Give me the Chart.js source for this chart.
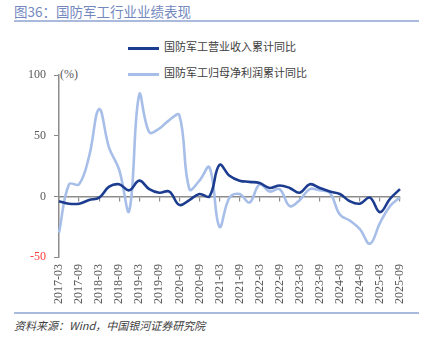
<!DOCTYPE html>
<html>
<head>
<meta charset="utf-8">
<script src="https://cdn.jsdelivr.net/npm/chart.js@4.4.1/dist/chart.umd.min.js"></script>
<style>
  body { margin: 0; background: #fff; }
  #wrap { position: relative; width: 425px; height: 349px; overflow: hidden; font-family: "Noto Sans CJK SC", sans-serif; }
  #title { position: absolute; left: 14px; top: 1px; font-size: 13.5px; color: #7488c0; white-space: nowrap; }
  .rule { position: absolute; left: 14px; width: 405px; height: 2px; background: #a9badd; }
  #legend { position: absolute; left: 128px; top: 38px; font-size: 11px; color: #404040; }
  .item { position: absolute; left: 0; white-space: nowrap; height: 16px; line-height: 16px; }
  .swatch { display: inline-block; width: 31px; height: 3px; vertical-align: middle; margin-right: 5px; }
  #unit { position: absolute; left: 60px; top: 67px; font: 12px "Liberation Serif", serif; color: #595959; }
  #source { position: absolute; left: 14px; top: 317px; font-size: 11px; font-style: italic; color: #404040; white-space: nowrap; }
  #box { position: absolute; left: 0; top: 60px; width: 425px; height: 252px; }
</style>
</head>
<body>
<div id="wrap">
  <div id="title">图36：国防军工行业业绩表现</div>
  <div class="rule" style="top:20px"></div>
  <div id="legend"></div>
  <div id="unit">(%)</div>
  <div id="box"><canvas id="chart"></canvas></div>
  <div class="rule" style="top:312px"></div>
  <div id="source">资料来源：Wind，中国银河证券研究院</div>
</div>
<script>
const quarters = [
  '2017-03','2017-06','2017-09','2017-12',
  '2018-03','2018-06','2018-09','2018-12',
  '2019-03','2019-06','2019-09','2019-12',
  '2020-03','2020-06','2020-09','2020-12',
  '2021-03','2021-06','2021-09','2021-12',
  '2022-03','2022-06','2022-09','2022-12',
  '2023-03','2023-06','2023-09','2023-12',
  '2024-03','2024-06','2024-09','2024-12',
  '2025-03','2025-06','2025-09'
];

const revenueYoY = [
  -4, -6, -6, -3,
  -1, 8, 10, 5,
  13, 6, 3, 4,
  -7, -3, 2, 0,
  26, 17, 13, 12,
  11, 7, 9, 7,
  3, 10, 7, 4,
  2, -4, -6, -1,
  -13, -2, 6
];

const profitYoY = [
  -30, 10, 10, 33,
  72, 40, 22, -12,
  84, 53, 56, 63,
  67, 6, 13, 24,
  -25, -1, 2, -5,
  10, 4, 6, -8,
  -3, 6, 5, 3,
  -15, -20, -27, -39,
  -22, -8, -1
];

const seriesNames = ['国防军工营业收入累计同比', '国防军工归母净利润累计同比'];
const seriesColors = ['#1c3c8f', '#a7bee9'];
const yTicks = [-50, 0, 50, 100];

const legend = document.getElementById('legend');
seriesNames.forEach((name, i) => {
  const el = document.createElement('div');
  el.className = 'item';
  el.style.top = (i * 26) + 'px';
  el.innerHTML = '<span class="swatch" style="background:' + seriesColors[i] + '"></span>' + name;
  legend.appendChild(el);
});

const axisGray = '#8c8c8c';

const data = {
  labels: quarters,
  datasets: [
    { label: seriesNames[0], data: revenueYoY, borderColor: seriesColors[0], borderWidth: 2.6, tension: 0.4, pointRadius: 0, fill: false, xAxisID: 'x' },
    { label: seriesNames[1], data: profitYoY, borderColor: seriesColors[1], borderWidth: 2.6, tension: 0.4, pointRadius: 0, fill: false, xAxisID: 'x' }
  ]
};

const config = {
  type: 'line',
  data: data,
  options: {
    responsive: true,
    maintainAspectRatio: false,
    animation: false,
    layout: { padding: { left: 0, right: 25, top: 15, bottom: 0 } },
    plugins: { legend: { display: false }, tooltip: { enabled: false } },
    scales: {
      x: {
        type: 'category',
        position: 'bottom',
        offset: false,
        border: { display: false },
        grid: { display: false, drawTicks: false },
        ticks: {
          autoSkip: false,
          maxRotation: 90,
          minRotation: 90,
          padding: 7,
          color: '#595959',
          font: { family: '"Liberation Serif", serif', size: 12 },
          callback: function (v, i) { return i % 2 === 0 ? this.getLabelForValue(v) : ''; }
        },
        afterFit: function (scale) { scale.height = 55; }
      },
      x0: {
        type: 'category',
        position: { y: 0 },
        offset: false,
        border: { display: true, color: axisGray, width: 1.5 },
        grid: {
          drawOnChartArea: false,
          drawTicks: true,
          tickLength: 4,
          lineWidth: 1.2,
          color: (ctx) => ctx.index % 2 === 0 ? axisGray : 'rgba(0,0,0,0)'
        },
        ticks: { display: false, autoSkip: false }
      },
      y: {
        min: -50,
        max: 100,
        afterBuildTicks: (scale) => { scale.ticks = yTicks.map(v => ({ value: v })); },
        border: { display: true, color: axisGray, width: 1.5 },
        grid: { drawOnChartArea: false, drawTicks: true, tickLength: 5, color: axisGray },
        ticks: {
          padding: 8,
          color: (ctx) => ctx.tick.value < 0 ? '#ff3b3b' : '#595959',
          font: { family: '"Liberation Serif", serif', size: 12 }
        },
        afterFit: function (scale) { scale.width = 59; }
      }
    }
  }
};

const ctx = document.getElementById('chart');
const perfChart = new Chart(ctx, config);
</script>
</body>
</html>
